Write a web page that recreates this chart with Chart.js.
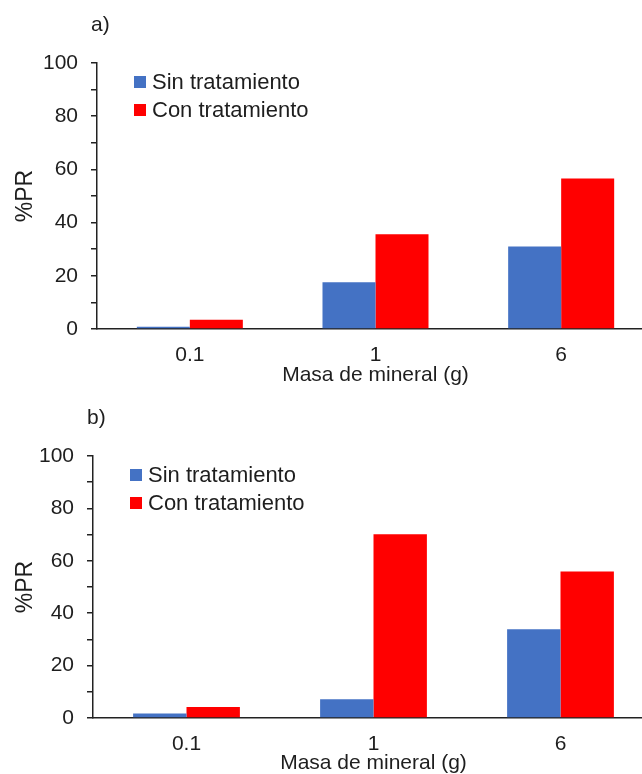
<!DOCTYPE html>
<html>
<head>
<meta charset="utf-8">
<script src="https://cdn.jsdelivr.net/npm/chart.js@4"></script>
<style>
	html, body { margin: 0; padding: 0; background: #fff; overflow: hidden; }
	#wrap { width: 642px; height: 774px; overflow: hidden; position: relative; }
	.box { position: absolute; left: 0; }
</style>
</head>
<body>
<div id="wrap">
	<div class="box" id="boxA" style="top:0px; width:660px; height:390px;"><canvas id="chartA"></canvas></div>
	<div class="box" id="boxB" style="top:390px; width:660px; height:400px;"><canvas id="chartB"></canvas></div>
</div>
<script>
// 데이터
const masa = ['0.1', '1', '6'];
const series = ['Sin tratamiento', 'Con tratamiento'];
const colores = ['#4472C4', '#FF0000'];

// a) 
const sinA = [0.8, 17.6, 31.0];
const conA = [3.5, 35.6, 56.6];

// b)
const sinB = [1.7, 7.2, 33.9];
const conB = [4.2, 70.1, 55.9];

const yTicks = [0, 20, 40, 60, 80, 100];

const FONT = '"Liberation Sans", Arial, sans-serif';
const TXT = '#1e1e1e';

// 범례 + 패널 라벨 (a), b)) 직접 그리기
const panelPlugin = {
	id: 'panel',
	afterDraw(chart, args, opts) {
		const ctx = chart.ctx;
		const area = chart.chartArea;
		ctx.save();
		ctx.font = '21px ' + FONT;
		ctx.fillStyle = TXT;
		ctx.textBaseline = 'middle';
		ctx.textAlign = 'left';
		ctx.fillText(opts.label, area.left - 6, area.top - 38);

		ctx.font = '22px ' + FONT;
		chart.data.datasets.forEach((ds, i) => {
			const y = area.top + 19 + i * 28;
			ctx.fillStyle = ds.backgroundColor;
			ctx.fillRect(area.left + 37, y - 6, 12, 12);
			ctx.fillStyle = TXT;
			ctx.fillText(ds.label, area.left + 55, y + 1);
		});
		ctx.restore();
	}
};

function makeChart(id, label, sin, con, yWidth, xHeight, padTop, titleBottom) {
	const ctx = document.getElementById(id);
	return new Chart(ctx, {
		type: 'bar',
		data: {
			labels: masa,
			datasets: [
				{ label: series[0], data: sin, backgroundColor: colores[0], borderWidth: 0 },
				{ label: series[1], data: con, backgroundColor: colores[1], borderWidth: 0 }
			]
		},
		plugins: [panelPlugin],
		options: {
			responsive: true,
			maintainAspectRatio: false,
			animation: false,
			devicePixelRatio: 1,
			layout: { padding: { left: 6, top: padTop, right: 6, bottom: 0 } },
			datasets: { bar: { categoryPercentage: 0.571, barPercentage: 1 } },
			plugins: {
				legend: { display: false },
				tooltip: { enabled: false },
				panel: { label: label }
			},
			scales: {
				x: {
					grid: { display: false, drawTicks: false },
					border: { display: true, color: '#222', width: 1.5 },
					ticks: { color: TXT, font: { family: FONT, size: 21 }, padding: 14 },
					title: {
						display: true, text: 'Masa de mineral (g)', color: TXT,
						font: { family: FONT, size: 21 }, padding: { top: 0, bottom: titleBottom }
					},
					afterFit(scale) { scale.height = xHeight; }
				},
				y: {
					min: 0, max: 100,
					grid: { drawOnChartArea: false, drawTicks: true, tickLength: 6, color: '#222', lineWidth: 1.5 },
					border: { display: true, color: '#222', width: 1.5 },
					ticks: {
						stepSize: 10, padding: 13, autoSkip: false, color: TXT, font: { family: FONT, size: 21 },
						callback: v => yTicks.includes(v) ? v : ''
					},
					title: {
						display: true, text: '%PR', color: TXT,
						font: { family: FONT, size: 23 }, padding: { top: 6, bottom: 0 }
					},
					afterFit(scale) { scale.width = yWidth; }
				}
			}
		}
	});
}

makeChart('chartA', 'a)', sinA, conA, 91, 61, 63, 2);
makeChart('chartB', 'b)', sinB, conB, 87, 72, 66, 14);
</script>
</body>
</html>
